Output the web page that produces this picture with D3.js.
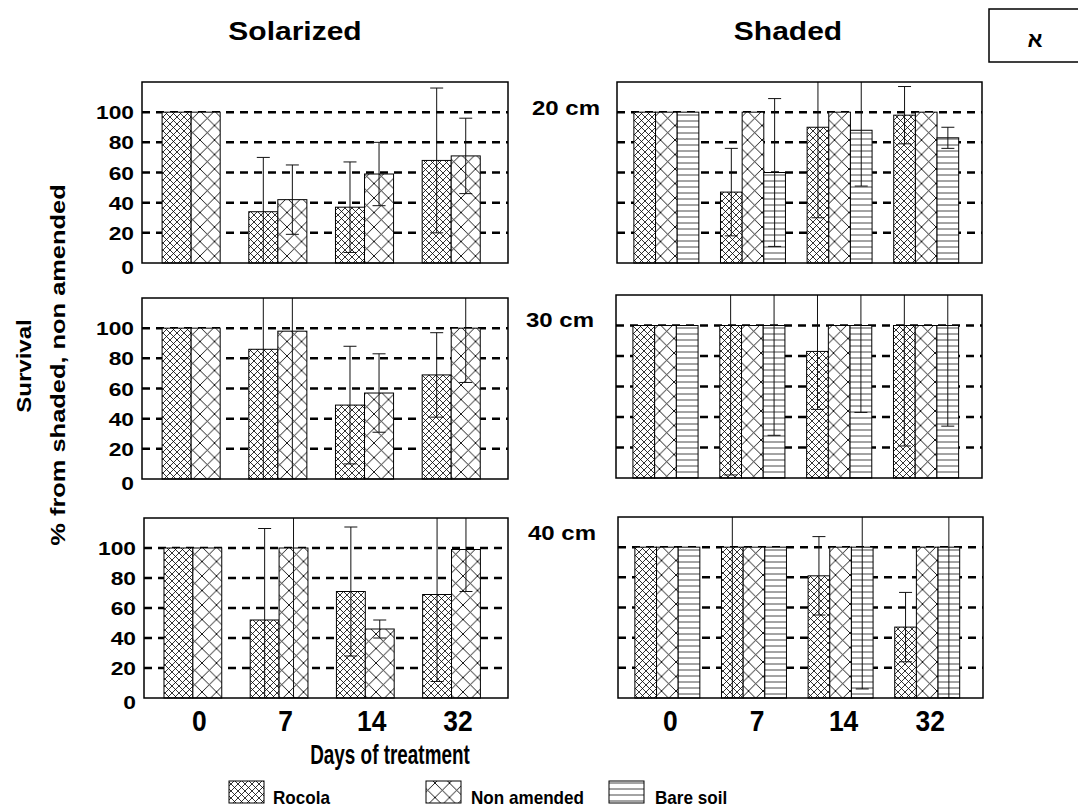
<!DOCTYPE html>
<html>
<head>
<meta charset="utf-8">
<script src="https://cdn.jsdelivr.net/npm/d3@7"></script>
<style>
  body { margin: 0; background: #fff; }
  text { font-family: "Liberation Sans", Arial, sans-serif; font-weight: bold; fill: #000; }
</style>
</head>
<body>
<div id="chart"></div>
<script>
const days = ["0", "7", "14", "32"];
const treatments = ["Rocola", "Non amended", "Bare soil"];
const yTicks = [0, 20, 40, 60, 80, 100];
const depths = ["20 cm", "30 cm", "40 cm"];

// Solarized: [Rocola, Non amended] by day
const sol20Mean = [[100, 34, 37, 68], [100, 42, 59, 71]];
const sol20Err  = [[0, 36, 30, 48], [0, 23, 21, 25]];
const sol30Mean = [[100, 86, 49, 69], [100, 98, 57, 100]];
const sol30Err  = [[0, 90, 39, 28], [0, 99, 26, 36]];
const sol40Mean = [[100, 52, 71, 69], [100, 100, 46, 99]];
const sol40Err  = [[0, 61, 43, 58], [0, 100, 6, 28]];

// Shaded: [Rocola, Non amended, Bare soil] by day
const sha20Mean = [[100, 47, 90, 98], [100, 100, 100, 100], [100, 60, 88, 83]];
const sha20Err  = [[0, 29, 60, 19], [0, 0, 0, 0], [0, 49, 37, 7]];
const sha30Mean = [[100, 100, 83, 100], [100, 100, 100, 100], [100, 100, 100, 100]];
const sha30Err  = [[0, 98, 38, 79], [0, 0, 0, 0], [0, 72, 57, 66]];
const sha40Mean = [[100, 100, 81, 47], [100, 100, 100, 100], [100, 100, 100, 100]];
const sha40Err  = [[0, 100, 26, 23], [0, 0, 0, 0], [0, 0, 94, 100]];

const W = 1078, H = 810;
const svg = d3.select("#chart").append("svg")
  .attr("width", W).attr("height", H)
  .style("display", "block");

const defs = svg.append("defs");

// hatch patterns
function hatch(id, size, draw) {
  const p = defs.append("pattern")
    .attr("id", id)
    .attr("patternUnits", "userSpaceOnUse")
    .attr("width", size).attr("height", size);
  p.append("rect").attr("width", size).attr("height", size).attr("fill", "#fff");
  draw(p, size);
}
hatch("pat-rocola", 7, (p, s) => p.append("path")
  .attr("d", `M0,0L${s},${s}M${s},0L0,${s}`)
  .attr("stroke", "#000").attr("stroke-width", 0.8));
hatch("pat-nonam", 14.5, (p, s) => p.append("path")
  .attr("d", `M0,0L${s},${s}M${s},0L0,${s}`)
  .attr("stroke", "#000").attr("stroke-width", 0.9));
hatch("pat-bare", 6, (p, s) => p.append("path")
  .attr("d", `M0,${s / 2}L${s},${s / 2}`)
  .attr("stroke", "#333").attr("stroke-width", 0.9));

const fills = { "Rocola": "url(#pat-rocola)", "Non amended": "url(#pat-nonam)", "Bare soil": "url(#pat-bare)" };

function label(g, x, y, str, size, sx, anchor, rot) {
  return g.append("text")
    .attr("transform", `translate(${x},${y}) rotate(${rot || 0}) scale(${sx},1)`)
    .attr("text-anchor", anchor || "start")
    .style("font-size", size + "px")
    .text(str);
}

const panels = [
  { id: "s20", x: 142, y: 82,  w: 366, h: 181, mean: sol20Mean, err: sol20Err, left: true },
  { id: "s30", x: 142, y: 298, w: 366, h: 181, mean: sol30Mean, err: sol30Err, left: true },
  { id: "s40", x: 144, y: 518, w: 364, h: 180, mean: sol40Mean, err: sol40Err, left: true, bottom: true },
  { id: "h20", x: 617, y: 82,  w: 365, h: 181, mean: sha20Mean, err: sha20Err },
  { id: "h30", x: 616, y: 295, w: 366, h: 183, mean: sha30Mean, err: sha30Err },
  { id: "h40", x: 618, y: 517, w: 365, h: 181, mean: sha40Mean, err: sha40Err, bottom: true }
];

panels.forEach(pn => {
  const series = treatments.slice(0, pn.mean.length);
  const g = svg.append("g").attr("transform", `translate(${pn.x},${pn.y})`);

  const y = d3.scaleLinear().domain([0, 120]).range([pn.h, 0]);
  const x0 = d3.scaleBand().domain(days).range([0, pn.w])
    .paddingInner(pn.left ? 0.33 : 0.25)
    .paddingOuter(pn.left ? 0.276 : 0.232)
    .align(0.42);
  const x1 = d3.scaleBand().domain(series).range([0, x0.bandwidth()]);

  defs.append("clipPath").attr("id", "clip-" + pn.id)
    .append("rect").attr("width", pn.w).attr("height", pn.h);

  // dashed grid
  g.append("g").selectAll("line")
    .data(yTicks.filter(d => d > 0))
    .join("line")
    .attr("x1", 0).attr("x2", pn.w)
    .attr("y1", d => y(d)).attr("y2", d => y(d))
    .attr("stroke", "#000").attr("stroke-width", 2.5)
    .attr("stroke-dasharray", "8,6");

  const rows = [];
  series.forEach((s, si) => days.forEach((d, di) => {
    rows.push({ s, d, v: pn.mean[si][di], e: pn.err[si][di] });
  }));

  g.append("g").selectAll("rect")
    .data(rows)
    .join("rect")
    .attr("x", r => x0(r.d) + x1(r.s))
    .attr("y", r => y(r.v))
    .attr("width", x1.bandwidth())
    .attr("height", r => pn.h - y(r.v))
    .attr("fill", r => fills[r.s])
    .attr("stroke", "#000").attr("stroke-width", 1);

  const eg = g.append("g").attr("clip-path", `url(#clip-${pn.id})`)
    .attr("stroke", "#111").attr("stroke-width", 1);
  rows.filter(r => r.e > 0).forEach(r => {
    const cx = x0(r.d) + x1(r.s) + x1.bandwidth() / 2;
    const hi = y(r.v + r.e), lo = y(r.v - r.e);
    eg.append("line").attr("x1", cx).attr("x2", cx).attr("y1", hi).attr("y2", lo);
    eg.append("line").attr("x1", cx - 6.5).attr("x2", cx + 6.5).attr("y1", hi).attr("y2", hi);
    eg.append("line").attr("x1", cx - 6.5).attr("x2", cx + 6.5).attr("y1", lo).attr("y2", lo);
  });

  g.append("rect").attr("width", pn.w).attr("height", pn.h)
    .attr("fill", "none").attr("stroke", "#000").attr("stroke-width", 1.5);

  if (pn.left) {
    yTicks.forEach(t => {
      label(g, -8, y(t) + 7 + (t === 0 ? 4 : 0), String(t), 19, 1.2, "end");
    });
  }
  if (pn.bottom) {
    days.forEach(d => {
      label(g, x0(d) + x0.step() * 0.41, pn.h + 33, d, 30, 0.88, "middle");
    });
  }
});

// titles
label(svg, 295, 40, "Solarized", 25, 1.2, "middle");
label(svg, 788, 40, "Shaded", 25, 1.2, "middle");

// depth labels
label(svg, 532, 115, depths[0], 20, 1.2, "start");
label(svg, 526, 327, depths[1], 20, 1.2, "start");
label(svg, 528, 540, depths[2], 20, 1.2, "start");

// y axis titles
label(svg, 31, 366, "Survival", 20, 1.2, "middle", -90);
label(svg, 65, 365, "% from shaded, non amended", 20, 1.27, "middle", -90);

// x axis title
label(svg, 390, 764, "Days of treatment", 27, 0.7, "middle");

// legend
const legendX = [229, 426, 609];
const legendTx = [273, 471, 655];
treatments.forEach((t, i) => {
  svg.append("rect")
    .attr("x", legendX[i]).attr("y", 781)
    .attr("width", 35).attr("height", 22)
    .attr("fill", fills[t]).attr("stroke", "#000").attr("stroke-width", 1);
  label(svg, legendTx[i], 804, t, 18, 0.95, "start");
});

// corner box
svg.append("rect").attr("x", 989).attr("y", 9).attr("width", 100).attr("height", 53)
  .attr("fill", "none").attr("stroke", "#000").attr("stroke-width", 1.5);
svg.append("text").attr("x", 1035).attr("y", 47)
  .attr("text-anchor", "middle")
  .style("font-size", "22px")
  .style("font-family", "'Liberation Sans', 'DejaVu Sans', sans-serif")
  .text("א");
</script>
</body>
</html>
